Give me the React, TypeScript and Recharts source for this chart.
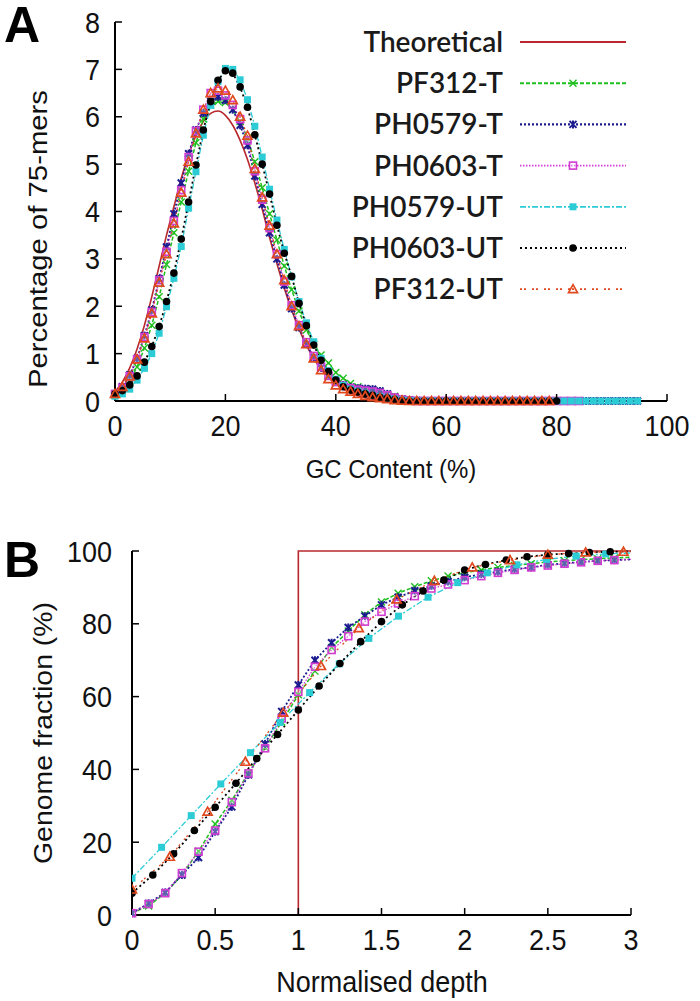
import React from 'react';
import { LineChart, Line, XAxis, YAxis } from 'recharts';

const FONT = '"Liberation Sans", Arial, sans-serif';
const LEGEND_FONT = 'Lato, "Open Sans", sans-serif';

const SERIES_NAMES = ['Theoretical', 'PF312-T', 'PH0579-T', 'PH0603-T', 'PH0579-UT', 'PH0603-UT', 'PF312-UT'];

// ---- panel A: % of 75-mers per GC bin (one bin = 1/75) ----
const GC_CONTENT = Array.from({ length: 72 }, (_, k) => (k * 100) / 75);
const A_TICKS_X = [0, 20, 40, 60, 80, 100];
const A_TICKS_Y = [0, 1, 2, 3, 4, 5, 6, 7, 8];

const THEORETICAL_A = [0.2, 0.4, 0.7, 1.1, 1.6, 2.2, 2.85, 3.5, 4.1, 4.7, 5.2, 5.6, 5.9, 6.07, 6.12, 6.03, 5.82, 5.5, 5.1, 4.6,
  4.05, 3.45, 2.9, 2.38, 1.92, 1.52, 1.18, 0.9, 0.67, 0.5, 0.36, 0.25, 0.17, 0.11, 0.07, 0.04, 0.02, 0.01,
  0, 0, 0, 0, 0, 0, 0, 0];
const PF312_T_A = [0.12, 0.22, 0.42, 0.72, 1.12, 1.6, 2.2, 2.88, 3.55, 4.2, 4.85, 5.45, 5.95, 6.25, 6.32, 6.3, 6.15, 5.9, 5.55, 5.05,
  4.5, 3.95, 3.4, 2.85, 2.35, 1.9, 1.5, 1.2, 0.97, 0.8, 0.6, 0.48, 0.37, 0.3, 0.26, 0.24, 0.2, 0.15, 0.1, 0.05, 0.02,
  0, 0, 0, 0, 0, 0, 0, 0, 0, 0, 0, 0, 0, 0, 0, 0, 0, 0, 0, 0, 0, 0, 0];
const PH0579_T_A = [0.15, 0.3, 0.55, 0.9, 1.38, 1.92, 2.58, 3.25, 3.95, 4.6, 5.22, 5.72, 6.08, 6.32, 6.42, 6.35, 6.15, 5.82, 5.4, 4.75,
  4.15, 3.55, 3.0, 2.45, 1.95, 1.55, 1.2, 0.92, 0.7, 0.53, 0.42, 0.34, 0.29, 0.27, 0.26, 0.25, 0.21, 0.15, 0.08, 0.04, 0.02, 0.01,
  0, 0, 0, 0, 0, 0, 0, 0, 0, 0, 0, 0, 0, 0, 0, 0, 0, 0, 0, 0, 0, 0, 0, 0, 0, 0, 0, 0, 0, 0];
const PH0603_T_A = [0.15, 0.28, 0.52, 0.88, 1.35, 1.88, 2.55, 3.15, 3.8, 4.45, 5.15, 5.7, 6.15, 6.5, 6.55, 6.45, 6.25, 5.95, 5.5, 4.85,
  4.25, 3.65, 3.1, 2.52, 2.02, 1.6, 1.24, 0.95, 0.72, 0.53, 0.4, 0.32, 0.27, 0.24, 0.22, 0.2, 0.17, 0.12, 0.07, 0.03, 0.01,
  0, 0, 0, 0, 0, 0, 0, 0, 0, 0, 0, 0, 0, 0, 0, 0, 0, 0, 0, 0, 0, 0, 0];
const PH0579_UT_A = [0.1, 0.15, 0.25, 0.44, 0.69, 1.0, 1.43, 1.99, 2.59, 3.26, 4.07, 4.84, 5.61, 6.24, 6.74, 7.02, 7.0, 6.78, 6.36, 5.8,
  5.15, 4.47, 3.82, 3.2, 2.62, 2.1, 1.65, 1.25, 0.9, 0.64, 0.46, 0.33, 0.25, 0.2, 0.16, 0.12, 0.09, 0.06, 0.04, 0.02, 0.01,
  0, 0, 0, 0, 0, 0, 0, 0, 0, 0, 0, 0, 0, 0, 0, 0, 0, 0, 0, 0, 0, 0, 0, 0, 0, 0, 0, 0, 0, 0, 0];
const PH0603_UT_A = [0.15, 0.22, 0.34, 0.53, 0.82, 1.15, 1.57, 2.1, 2.7, 3.42, 4.2, 4.98, 5.72, 6.32, 6.77, 6.97, 6.92, 6.63, 6.2, 5.62,
  5.0, 4.37, 3.71, 3.12, 2.63, 2.06, 1.59, 1.18, 0.86, 0.62, 0.44, 0.3, 0.23, 0.19, 0.15, 0.12, 0.08, 0.06, 0.03, 0.01,
  0, 0, 0, 0, 0, 0, 0, 0, 0, 0, 0, 0, 0, 0, 0, 0, 0, 0, 0, 0, 0];
const PF312_UT_A = [0.15, 0.3, 0.52, 0.88, 1.32, 1.85, 2.5, 3.1, 3.75, 4.4, 5.05, 5.65, 6.15, 6.5, 6.6, 6.55, 6.35, 6.0, 5.6, 4.9,
  4.3, 3.7, 3.1, 2.55, 2.0, 1.58, 1.2, 0.9, 0.65, 0.46, 0.33, 0.25, 0.2, 0.15, 0.11, 0.08, 0.06, 0.04, 0.02, 0.01,
  0, 0, 0, 0, 0, 0, 0, 0, 0, 0, 0, 0, 0, 0, 0, 0, 0, 0, 0, 0];

// ---- panel B: cumulative genome fraction vs normalised depth ----
const B_TICKS_X = [0, 0.5, 1, 1.5, 2, 2.5, 3];
const B_TICKS_Y = [0, 20, 40, 60, 80, 100];
const THEORETICAL_B_X = [0, 1, 1, 3];
const THEORETICAL_B = [0, 0, 100, 100];
// depth step per sample = 1 / mean depth
const STEP_B: Record<string, number> = {
  'PF312-T': 0.1, 'PH0579-T': 0.1, 'PH0603-T': 0.1,
  'PH0579-UT': 0.178, 'PH0603-UT': 0.125, 'PF312-UT': 1 / 4.4,
};
const PF312_T_B = [0.5, 2.5, 6, 11, 17.5, 25, 31.5, 39, 46, 53, 60.5, 67, 73.5, 78, 82.5, 86, 88.4, 90.2, 91.8, 93.1,
  94, 94.8, 95.5, 96, 96.5, 97, 97.3, 97.6, 97.9, 98.1, 98.3];
const PH0579_T_B = [0.5, 3.2, 6.2, 11, 15.8, 22.9, 29.7, 38.5, 47, 55.9, 63.2, 70, 74.8, 79, 82.1, 85.2, 87.3, 89.1, 90.4, 91.6,
  92.8, 93.6, 94.3, 95, 95.5, 96.2, 96.6, 97, 97.3, 97.5, 97.7];
const PH0603_T_B = [0.5, 3, 6, 11.5, 17.4, 23.2, 31, 38.9, 45.8, 54, 61.3, 68.2, 72.8, 76.6, 80.6, 83.3, 85.6, 87.6, 89.7, 90.8,
  92, 93.1, 94, 94.8, 95.5, 96, 96.5, 96.9, 97.3, 97.5, 97.7];
const PH0579_UT_B = [10.1, 18.6, 27.3, 36, 44.6, 52.9, 61.1, 69, 76, 82.1, 87.3, 91.3, 94, 96.2, 97.7, 98.6, 99.2, 99.5];
const PH0603_UT_B = [6, 11, 16.8, 23.2, 29.6, 36.2, 43, 49.6, 56.3, 62.9, 69.1, 75.1, 80.6, 85.2, 89, 92, 94.8, 96.3, 97.5,
  98.4, 99, 99.3, 99.6, 99.8, 99.9];
const PF312_UT_B = [7, 16, 28.4, 42.1, 55.6, 68.4, 78.8, 86.7, 91.8, 95.5, 97.5, 99, 99.6, 99.8, 99.9];

const A_VALUES: Record<string, number[]> = {
  'Theoretical': THEORETICAL_A, 'PF312-T': PF312_T_A, 'PH0579-T': PH0579_T_A, 'PH0603-T': PH0603_T_A,
  'PH0579-UT': PH0579_UT_A, 'PH0603-UT': PH0603_UT_A, 'PF312-UT': PF312_UT_A,
};
const B_VALUES: Record<string, number[]> = {
  'PF312-T': PF312_T_B, 'PH0579-T': PH0579_T_B, 'PH0603-T': PH0603_T_B,
  'PH0579-UT': PH0579_UT_B, 'PH0603-UT': PH0603_UT_B, 'PF312-UT': PF312_UT_B,
};

// ---- markers ----
type MP = { cx: number; cy: number; color: string };
const Cross = ({ cx, cy, color }: MP) => (
  <g stroke={color} strokeWidth={1.4}>
    <line x1={cx - 3.5} y1={cy - 3.5} x2={cx + 3.5} y2={cy + 3.5} />
    <line x1={cx - 3.5} y1={cy + 3.5} x2={cx + 3.5} y2={cy - 3.5} />
  </g>
);
const Star = ({ cx, cy, color }: MP) => (
  <g stroke={color} strokeWidth={2}>
    <line x1={cx - 3.5} y1={cy - 3.5} x2={cx + 3.5} y2={cy + 3.5} />
    <line x1={cx - 3.5} y1={cy + 3.5} x2={cx + 3.5} y2={cy - 3.5} />
    <line x1={cx} y1={cy - 4} x2={cx} y2={cy + 4} />
  </g>
);
const OpenSquare = ({ cx, cy, color }: MP) => (
  <rect x={cx - 3.5} y={cy - 3.5} width={7} height={7} fill="#fff" fillOpacity={0.3} stroke={color} strokeWidth={1.6} />
);
const FilledSquare = ({ cx, cy, color }: MP) => (
  <rect x={cx - 3.5} y={cy - 3.5} width={7} height={7} fill={color} />
);
const Dot = ({ cx, cy, color }: MP) => <circle cx={cx} cy={cy} r={3.8} fill={color} />;
const Triangle = ({ cx, cy, color }: MP) => (
  <path d={`M${cx},${cy - 4.5}L${cx + 4.5},${cy + 3.5}L${cx - 4.5},${cy + 3.5}Z`} fill="none" stroke={color} strokeWidth={1.7} />
);

const STYLE: Record<string, { color: string; dash?: string; width: number; Marker: any }> = {
  'Theoretical': { color: '#b8282c', width: 1.6, Marker: null },
  'PF312-T': { color: '#1fbf1f', dash: '4 2', width: 1.5, Marker: Cross },
  'PH0579-T': { color: '#1c1c90', dash: '2 2', width: 1.8, Marker: Star },
  'PH0603-T': { color: '#d23cd2', dash: '1.5 1.5', width: 1.3, Marker: OpenSquare },
  'PH0579-UT': { color: '#2cccd6', dash: '6 2 2 2', width: 1.3, Marker: FilledSquare },
  'PH0603-UT': { color: '#000000', dash: '2 3', width: 1.8, Marker: Dot },
  'PF312-UT': { color: '#e0481e', dash: '2 2 2 6', width: 1.3, Marker: Triangle },
};

const dotRenderer = (name: string, chart: string, maxX: number) => {
  const { Marker, color } = STYLE[name];
  if (!Marker) return false;
  return (p: any) => {
    const key = `${chart}-${name}-${p.index}`;
    if (p.cx == null || p.cy == null || p.payload.x > maxX) return <g key={key} />;
    return <Marker key={key} cx={p.cx} cy={p.cy} color={color} />;
  };
};

// ---- ticks (drawn inward) ----
const makeXTick = (first: number) => (props: any) => {
  const { x, y, payload } = props;
  return (
    <g>
      {payload.value !== first && <line x1={x} y1={y} x2={x} y2={y - 7} stroke="#000" strokeWidth={1.5} />}
      <text transform={`translate(${x},${y + 35}) scale(1,1.12)`} textAnchor="middle" fontFamily={FONT} fontSize={27} fill="#111">
        {payload.value}
      </text>
    </g>
  );
};
const makeYTick = (gap: number) => (props: any) => {
  const { x, y, payload } = props;
  return (
    <g>
      {payload.value !== 0 && <line x1={x} y1={y} x2={x + 7} y2={y} stroke="#000" strokeWidth={1.5} />}
      <text transform={`translate(${x - gap},${y + 10.5}) scale(1,1.12)`} textAnchor="end" fontFamily={FONT} fontSize={27} fill="#111">
        {payload.value}
      </text>
    </g>
  );
};

const axisLine = { stroke: '#000', strokeWidth: 2 };

const LEGEND_ROWS = SERIES_NAMES.map((n, i) => ({ name: n, y: 42 + i * 41.2 }));

export default function App() {
  const seriesA = SERIES_NAMES.map((name) => ({
    name,
    data: A_VALUES[name].map((v, k) => ({ x: GC_CONTENT[k], y: v })),
  }));
  const seriesB = SERIES_NAMES.map((name) => ({
    name,
    data:
      name === 'Theoretical'
        ? THEORETICAL_B.map((v, i) => ({ x: THEORETICAL_B_X[i], y: v }))
        : B_VALUES[name].map((v, i) => ({ x: i * STEP_B[name], y: v })),
  }));

  return (
    <div style={{ position: 'absolute', left: 0, top: 0, width: 700, height: 1001, background: '#fff' }}>
      <div style={{ position: 'absolute', left: 0, top: 0 }}>
        <LineChart width={700} height={500} margin={{ top: 22, right: 33, bottom: 39, left: 35 }}>
          <XAxis dataKey="x" type="number" domain={[0, 100]} ticks={A_TICKS_X} interval={0} height={60}
            axisLine={axisLine} tickLine={false} tickSize={0} tickMargin={0} tick={makeXTick(0)} />
          <YAxis type="number" domain={[0, 8]} ticks={A_TICKS_Y} interval={0} width={80}
            axisLine={axisLine} tickLine={false} tickSize={0} tickMargin={0} tick={makeYTick(15)} />
          {seriesA.map((s) => (
            <Line key={s.name} data={s.data} dataKey="y" name={s.name}
              type={s.name === 'Theoretical' ? 'monotone' : 'linear'}
              stroke={STYLE[s.name].color} strokeWidth={STYLE[s.name].width} strokeDasharray={STYLE[s.name].dash}
              dot={dotRenderer(s.name, 'A', 1000)} activeDot={false} isAnimationActive={false} />
          ))}
        </LineChart>
      </div>
      <div style={{ position: 'absolute', left: 0, top: 530 }}>
        <LineChart width={700} height={471} margin={{ top: 21, right: 69, bottom: 36, left: 52 }}>
          <XAxis dataKey="x" type="number" domain={[0, 3]} allowDataOverflow ticks={B_TICKS_X} interval={0} height={50}
            axisLine={axisLine} tickLine={false} tickSize={0} tickMargin={0} tick={makeXTick(0)} />
          <YAxis type="number" domain={[0, 100]} ticks={B_TICKS_Y} interval={0} width={80}
            axisLine={axisLine} tickLine={false} tickSize={0} tickMargin={0} tick={makeYTick(20)} />
          {seriesB.map((s) => (
            <Line key={s.name} data={s.data} dataKey="y" name={s.name} type="linear"
              stroke={STYLE[s.name].color} strokeWidth={STYLE[s.name].width} strokeDasharray={STYLE[s.name].dash}
              dot={dotRenderer(s.name, 'B', 2.97)} activeDot={false} isAnimationActive={false} />
          ))}
        </LineChart>
      </div>
      <svg width={700} height={1001} style={{ position: 'absolute', left: 0, top: 0, pointerEvents: 'none' }}>
        <text x={4} y={42} fontFamily={FONT} fontWeight="bold" fontSize={50} fill="#000">A</text>
        <text x={4} y={577} fontFamily={FONT} fontWeight="bold" fontSize={50} fill="#000">B</text>
        <text transform="translate(38,239) rotate(-90)" textAnchor="middle" dominantBaseline="central"
          fontFamily={FONT} fontSize={25} textLength={298} lengthAdjust="spacingAndGlyphs" fill="#111">Percentage of 75-mers</text>
        <text transform="translate(391,478) scale(1,1.1)" textAnchor="middle" fontFamily={FONT} fontSize={24} fill="#111">GC Content (%)</text>
        <text transform="translate(43,733) rotate(-90)" textAnchor="middle" dominantBaseline="central"
          fontFamily={FONT} fontSize={26} textLength={262} lengthAdjust="spacingAndGlyphs" fill="#111">Genome fraction (%)</text>
        <text transform="translate(382,992) scale(1,1.12)" textAnchor="middle" fontFamily={FONT} fontSize={27} fill="#111">Normalised depth</text>
        {LEGEND_ROWS.map(({ name, y }) => {
          const st = STYLE[name];
          const M = st.Marker;
          return (
            <g key={name}>
              <text x={503} y={y + 10} textAnchor="end" fontFamily={LEGEND_FONT} fontWeight={600} fontSize={28} fill="#1a1a1a">{name}</text>
              <line x1={520} y1={y} x2={626} y2={y} stroke={st.color} strokeWidth={name === 'Theoretical' ? 2 : st.width + 0.4}
                strokeDasharray={st.dash} />
              {M && <M cx={573} cy={y} color={st.color} />}
            </g>
          );
        })}
      </svg>
    </div>
  );
}
